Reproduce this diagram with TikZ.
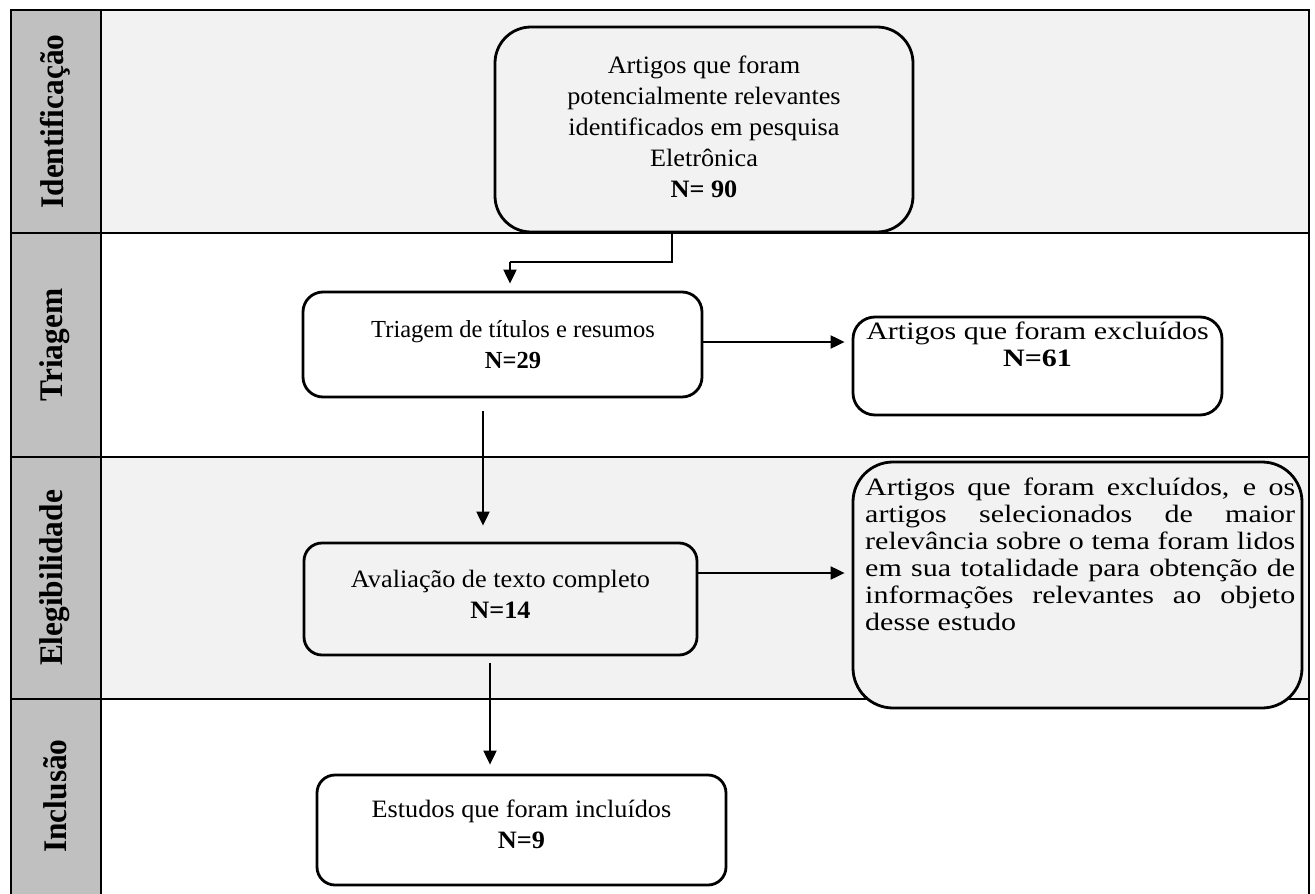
\documentclass[tikz,border=0pt]{standalone}
\usepackage{fontspec}
\setmainfont{Liberation Serif}
\newfontfamily\fR[FakeStretch=1.2]{Liberation Serif}
\newfontfamily\fL[FakeStretch=1.05]{Liberation Serif}
\newfontfamily\fM{Liberation Serif}
\newfontfamily\fLbl[FakeStretch=0.95]{Liberation Serif}
\usetikzlibrary{arrows.meta,positioning}
\definecolor{lblgray}{HTML}{C0C0C0}
\definecolor{rowgray}{HTML}{F2F2F2}
\begin{document}
\begin{tikzpicture}[x=1pt,y=-1pt,
  frameline/.style={line width=2pt},
  box/.style={draw, line width=2.8pt, rounded corners=#1, inner sep=0pt},
  lbl/.style={rotate=90, font=\fLbl\bfseries\fontsize{33}{33}\selectfont, inner sep=0pt},
  ltxt/.style={align=center, inner sep=0pt, font=\fL\fontsize{25}{31}\selectfont},
  mtxt/.style={align=center, inner sep=0pt, font=\fM\fontsize{24.5}{31}\selectfont},
  rtxt/.style={align=center, inner sep=0pt, font=\fR\fontsize{25}{27}\selectfont},
  arr/.style={line width=2pt, -{Triangle[length=14pt,width=13pt]}},
  conn/.style={line width=2pt}
]
\useasboundingbox (0,0) rectangle (1315,894);
% backgrounds
\fill[rowgray] (101,10) rectangle (1309,233);
\fill[rowgray] (101,457) rectangle (1309,699);
\fill[lblgray] (11,10) rectangle (101,900);
% grid lines
\draw[frameline] (11,900) -- (11,10) -- (1309,10) -- (1309,900);
\draw[frameline] (101,10) -- (101,900);
\draw[frameline] (11,233) -- (1309,233);
\draw[frameline] (11,457) -- (1309,457);
\draw[frameline] (11,699) -- (1309,699);
% lane labels
\node[lbl] (l1) at (55,121.5) {Identificação};
\node[lbl] (l2) at (55,345) {Triagem};
\node[lbl] (l3) at (55,578) {Elegibilidade};
\node[lbl] (l4) at (55,796) {Inclusão};
% boxes
\node[box=36pt, fill=rowgray, minimum width=418pt, minimum height=205pt] (b1) at (704,129.5) {};
\node[ltxt, anchor=north] (t1) at (704,56) {Artigos que foram\\potencialmente relevantes\\identificados em pesquisa\\Eletrônica\\\textbf{N= 90}};
\node[box=20pt, fill=white, minimum width=399pt, minimum height=105pt] (b2) at (502.5,344.5) {};
\node[mtxt] (t2) at (513,345) {Triagem de títulos e resumos\\\textbf{N=29}};
\node[box=22pt, fill=white, minimum width=369pt, minimum height=98pt] (b3) at (1037.5,366) {};
\node[rtxt, anchor=north] (t3) at (1037.5,322) {Artigos que foram excluídos\\\textbf{N=61}};
\node[box=40pt, fill=rowgray, minimum width=449pt, minimum height=246pt] (b4) at (1077.5,585) {};
\node[anchor=north west, inner sep=0pt, text width=430pt, align=justify, font=\fR\fontsize{25}{27}\selectfont] (t4) at (865,478)
 {Artigos que foram excluídos, e os\linebreak artigos selecionados de maior\linebreak relevância sobre o tema foram lidos\linebreak em sua totalidade para obtenção de\linebreak informações relevantes ao objeto\linebreak desse estudo};
\node[box=18pt, fill=rowgray, minimum width=393pt, minimum height=112pt] (b5) at (500.5,599) {};
\node[ltxt] (t5) at (500.5,594) {Avaliação de texto completo\\\textbf{N=14}};
\node[box=18pt, fill=white, minimum width=409pt, minimum height=110pt] (b6) at (521.5,830) {};
\node[ltxt] (t6) at (521.5,824) {Estudos que foram incluídos\\\textbf{N=9}};
% connectors
\coordinate (c1) at (672,262);
\coordinate (c2) at (510,262);
\draw[conn] (b1.south -| c1) -- (c1) -- (c2);
\draw[arr] (c2) -- ([yshift=7pt]b2.north -| c2);
\draw[arr] (b2.east |- 0,342) -- ([xshift=-7pt]b3.west |- 0,342);
\draw[arr] ([yshift=-13pt]b2.south -| 483,0) -- ([yshift=16pt]b5.north -| 483,0);
\draw[arr] (b5.east |- 0,573) -- ([xshift=-7pt]b4.west |- 0,573);
\draw[arr] ([yshift=-7pt]b5.south -| 490,0) -- ([yshift=9pt]b6.north -| 490,0);
\end{tikzpicture}
\end{document}
